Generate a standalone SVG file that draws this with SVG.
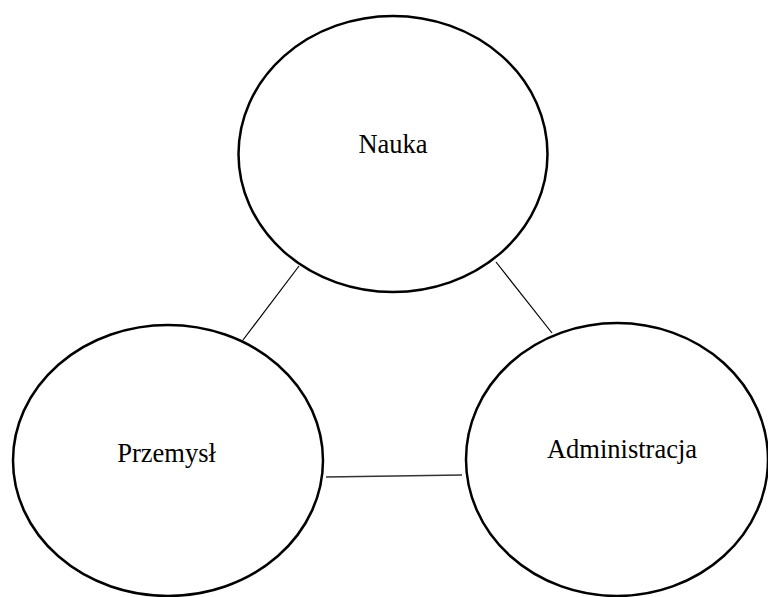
<svg xmlns="http://www.w3.org/2000/svg" width="768" height="597" viewBox="0 0 768 597">
<style>
.node{fill:none;stroke:#000;stroke-width:2.5}
.lbl{font-family:"Liberation Serif","Times New Roman",serif;font-size:26.5px;fill:#000;text-anchor:middle}
.conn line{stroke:#000;stroke-width:1.2}
</style>
<rect width="768" height="597" fill="#fff"/>
<g class="conn" id="connectors">
<line x1="299" y1="266" x2="243" y2="340"/>
<line x1="496" y1="262" x2="552" y2="333"/>
<line x1="326" y1="477" x2="462" y2="475" style="stroke-width:1.6;stroke:#333"/>
</g>
<g id="nauka">
<ellipse class="node" cx="393" cy="154" rx="154.5" ry="138"/>
<text class="lbl" x="393" y="153">Nauka</text>
</g>
<g id="przemysl">
<ellipse class="node" cx="168" cy="460.5" rx="155" ry="135.5"/>
<text class="lbl" x="166.5" y="462">Przemysł</text>
</g>
<g id="administracja">
<ellipse class="node" cx="617" cy="459.5" rx="151" ry="136.5"/>
<text class="lbl" x="622" y="458">Administracja</text>
</g>
</svg>
